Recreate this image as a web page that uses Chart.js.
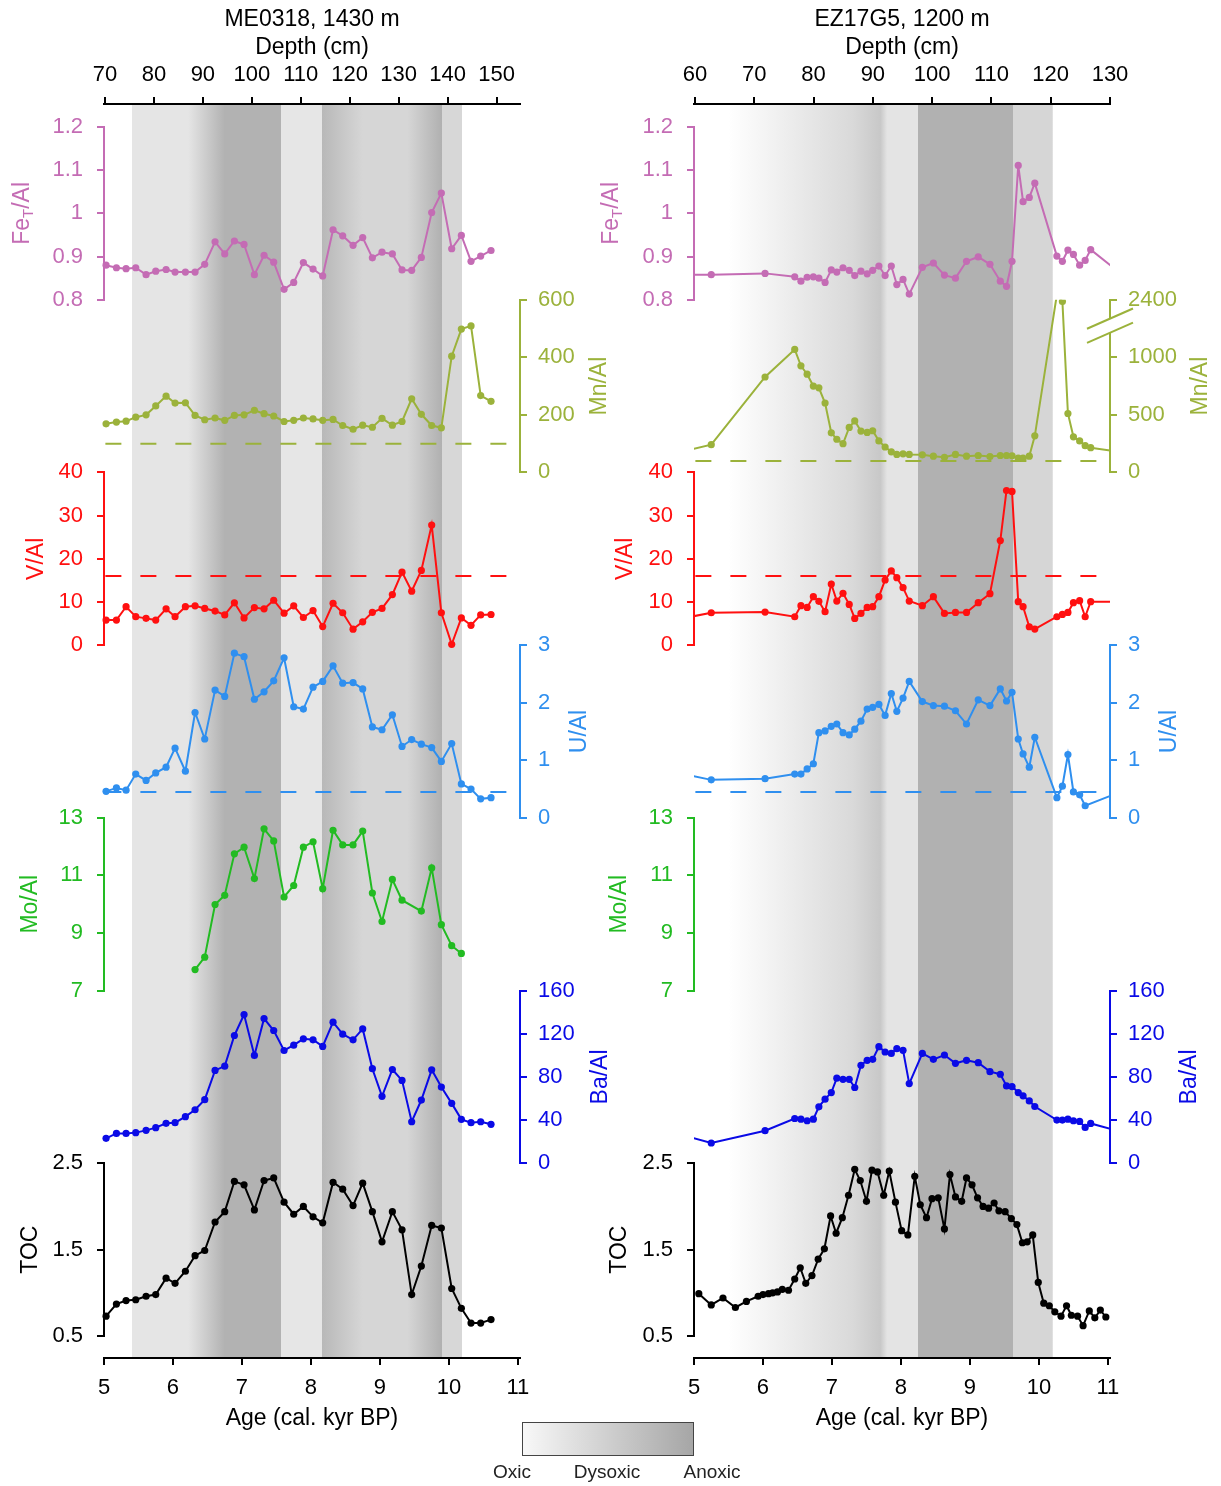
<!DOCTYPE html>
<html lang="en">
<head>
<meta charset="utf-8">
<title>Redox proxies ME0318 / EZ17G5</title>
<script src="https://cdn.jsdelivr.net/npm/chart.js@4.4.1/dist/chart.umd.min.js"></script>
<style>
  html, body { margin: 0; padding: 0; background: #fff; }
  body { position: relative; width: 1221px; height: 1486px; overflow: hidden;
         font-family: "Liberation Sans", Arial, sans-serif; }
  canvas { position: absolute; top: 0; }
  #me-canva { left: 0; }
  #ez-canva { left: 600px; }
  #redox-key { position: absolute; left: 522px; top: 1422px; width: 170px; height: 32px;
               border: 1px solid #444; background: linear-gradient(to right, #f8f8f8, #a6a6a6); }
  .key-label { position: absolute; top: 1461px; font-size: 19px; color: #222;
               transform: translateX(-50%); white-space: nowrap; }
</style>
</head>
<body>
<canvas id="me-canva" width="620" height="1440"></canvas>
<canvas id="ez-canva" width="621" height="1440"></canvas>
<div id="redox-key"></div>
<span class="key-label" style="left:512px">Oxic</span>
<span class="key-label" style="left:607px">Dysoxic</span>
<span class="key-label" style="left:712px">Anoxic</span>
<script>
// ---- ME0318, 1430 m ----
const meAge = [5.03, 5.18, 5.32, 5.46, 5.61, 5.75, 5.90, 6.03, 6.18, 6.32, 6.46, 6.61, 6.75, 6.89, 7.03, 7.18, 7.32, 7.46, 7.61, 7.75,
               7.89, 8.03, 8.17, 8.32, 8.46, 8.61, 8.75, 8.89, 9.03, 9.18, 9.32, 9.46, 9.60, 9.75, 9.89, 10.04, 10.18, 10.32, 10.46, 10.61];
const meFe = [0.880, 0.874, 0.872, 0.874, 0.858, 0.866, 0.870, 0.864, 0.864, 0.864, 0.882, 0.934, 0.906, 0.936, 0.928, 0.858, 0.903, 0.887, 0.824, 0.840,
              0.886, 0.871, 0.855, 0.962, 0.948, 0.926, 0.944, 0.897, 0.910, 0.906, 0.869, 0.868, 0.898, 1.002, 1.047, 0.918, 0.949, 0.889, 0.901, 0.914];
const meMn = [169, 175, 178, 192, 200, 231, 265, 241, 242, 198, 183, 189, 181, 198, 200, 216, 204, 196, 177, 181,
              189, 186, 181, 184, 163, 150, 164, 157, 188, 164, 177, 256, 202, 163, 155, 404, 498, 509, 267, 247];
const meV = [5.8, 5.8, 8.9, 6.6, 6.2, 5.8, 8.4, 6.6, 8.9, 9.1, 8.5, 7.9, 7.0, 9.8, 6.3, 8.7, 8.4, 10.4, 7.4, 9.1,
             6.4, 8.0, 4.3, 9.7, 7.5, 3.7, 5.4, 7.6, 8.5, 11.7, 16.9, 12.5, 17.3, 27.8, 7.5, 0.2, 6.3, 4.6, 7.0, 7.1];
const meU = [0.46, 0.52, 0.48, 0.76, 0.65, 0.78, 0.88, 1.21, 0.81, 1.83, 1.37, 2.22, 2.11, 2.86, 2.80, 2.06, 2.19, 2.38, 2.78, 1.93,
             1.89, 2.27, 2.37, 2.64, 2.34, 2.35, 2.24, 1.58, 1.53, 1.79, 1.24, 1.36, 1.28, 1.22, 0.98, 1.29, 0.59, 0.50, 0.33, 0.35];
const meMo = [null, null, null, null, null, null, null, null, null, 7.73, 8.16, 9.99, 10.31, 11.75, 11.98, 10.89, 12.62, 12.20, 10.25, 10.65,
              11.98, 12.17, 10.54, 12.57, 12.06, 12.06, 12.54, 10.39, 9.40, 10.86, 10.14, null, 9.76, 11.26, 9.29, 8.56, 8.29, null, null, null];
const meBa = [23.1, 27.7, 27.7, 28.4, 30.5, 33.0, 37.0, 37.6, 43.2, 49.6, 58.9, 86.0, 90.0, 118.4, 137.8, 99.9, 134.1, 123.0, 104.5, 109.4,
              115.3, 114.4, 108.3, 130.7, 119.6, 114.4, 124.5, 87.6, 62.0, 86.9, 76.8, 38.5, 58.6, 86.6, 70.6, 55.5, 40.7, 37.6, 38.5, 36.1];
const meToc = [0.73, 0.87, 0.91, 0.92, 0.96, 0.98, 1.17, 1.11, 1.25, 1.43, 1.49, 1.82, 1.94, 2.29, 2.25, 1.96, 2.30, 2.33, 2.05, 1.91,
               2.00, 1.88, 1.81, 2.28, 2.20, 2.01, 2.27, 1.94, 1.59, 1.94, 1.73, 0.98, 1.31, 1.78, 1.75, 1.05, 0.82, 0.65, 0.65, 0.69];

// ---- EZ17G5, 1200 m (first and last samples fall just outside 5-11 kyr) ----
const ezAge = [4.8, 5.25, 6.03, 6.46, 6.55, 6.64, 6.73, 6.81, 6.90, 6.99, 7.07, 7.16, 7.25, 7.33, 7.42, 7.51, 7.59, 7.68, 7.77, 7.86,
               7.94, 8.03, 8.12, 8.31, 8.47, 8.63, 8.79, 8.95, 9.12, 9.29, 9.44, 9.53, 9.61, 9.70, 9.77, 9.86, 9.94, 10.26, 10.34, 10.42,
               10.50, 10.59, 10.67, 10.75, 11.2];
const ezFe = [0.858, 0.858, 0.861, 0.853, 0.843, 0.852, 0.853, 0.850, 0.840, 0.869, 0.864, 0.874, 0.868, 0.856, 0.866, 0.860, 0.868, 0.878, 0.856, 0.878,
              0.835, 0.847, 0.813, 0.875, 0.885, 0.857, 0.850, 0.889, 0.899, 0.882, 0.843, 0.831, 0.889, 1.111, 1.027, 1.037, 1.070, 0.901, 0.889, 0.915,
              0.905, 0.880, 0.891, 0.916, 0.859];
const ezMn = [177, 241, 829, 1068, 926, 853, 750, 735, 603, 344, 288, 250, 391, 447, 359, 347, 362, 274, 221, 179,
              156, 162, 156, 153, 141, 132, 156, 141, 147, 138, 147, 147, 144, 124, 124, 141, 318, 2444, 2385, 512,
              309, 274, 232, 215, 175];
const ezV = [6.1, 7.50, 7.66, 6.58, 9.13, 8.74, 11.22, 10.14, 7.74, 14.16, 10.21, 11.99, 9.44, 6.19, 7.35, 8.74, 8.90, 11.22, 15.09, 17.18,
             15.63, 13.31, 10.21, 9.13, 11.22, 7.35, 7.58, 7.58, 9.83, 11.91, 24.22, 35.82, 35.59, 10.06, 8.90, 4.26, 3.71, 6.58, 7.12, 7.58,
             9.83, 10.29, 6.58, 10.06, 10.06];
const ezU = [0.77, 0.66, 0.68, 0.76, 0.76, 0.85, 0.94, 1.48, 1.51, 1.59, 1.63, 1.48, 1.44, 1.54, 1.68, 1.89, 1.92, 1.97, 1.78, 2.16,
             1.85, 2.08, 2.37, 2.02, 1.95, 1.94, 1.86, 1.63, 2.05, 1.95, 2.24, 2.03, 2.18, 1.37, 1.11, 0.88, 1.40, 0.35, 0.55, 1.10,
             0.45, 0.40, 0.21, null, 0.46];
const ezBa = [26.8, 18.8, 30.2, 41.5, 40.9, 39.4, 40.9, 52.3, 59.4, 65.5, 78.8, 77.8, 77.8, 70.2, 90.8, 95.4, 96.3, 108.0, 103.1, 101.8,
              106.2, 104.6, 73.8, 101.8, 96.3, 100.3, 92.6, 95.4, 93.2, 84.9, 82.5, 71.7, 71.1, 65.5, 62.5, 57.8, 52.6, 40.0, 40.0, 40.9,
              39.4, 38.8, 33.2, 36.9, 28.9];
const ezTocAge = [5.07, 5.25, 5.42, 5.60, 5.76, 5.93, 6.00, 6.08, 6.14, 6.21, 6.28, 6.37, 6.46, 6.54, 6.62, 6.71, 6.80, 6.89, 6.98, 7.06,
                  7.15, 7.24, 7.33, 7.41, 7.50, 7.58, 7.66, 7.75, 7.83, 7.92, 8.01, 8.10, 8.20, 8.28, 8.37, 8.45, 8.54, 8.63, 8.71, 8.79,
                  8.88, 8.95, 9.03, 9.11, 9.19, 9.27, 9.35, 9.42, 9.51, 9.60, 9.68, 9.76, 9.83, 9.91, 9.99, 10.07, 10.15, 10.23, 10.32, 10.40,
                  10.47, 10.56, 10.64, 10.73, 10.81, 10.89, 10.97];
const ezToc = [0.99, 0.86, 0.94, 0.83, 0.90, 0.96, 0.98, 0.99, 1.00, 1.01, 1.04, 1.03, 1.16, 1.29, 1.11, 1.20, 1.39, 1.51, 1.89, 1.69,
               1.87, 2.13, 2.43, 2.30, 2.06, 2.42, 2.40, 2.13, 2.41, 2.05, 1.72, 1.67, 2.35, 2.02, 1.87, 2.09, 2.10, 1.74, 2.37, 2.11,
               2.06, 2.33, 2.25, 2.10, 2.00, 1.98, 2.04, 1.95, 1.94, 1.86, 1.79, 1.58, 1.59, 1.67, 1.12, 0.88, 0.85, 0.78, 0.73, 0.85,
               0.74, 0.73, 0.62, 0.79, 0.71, 0.80, 0.72];

// dashed reference levels
const refMn = 100, refV = 16, refU = 0.45;
const refAge = [5.02, 10.85];

// redox zones: age stops and grey level of the background
const meShadeAge  = [5.40, 5.40, 6.22, 6.75, 7.57, 7.57, 8.16, 8.16, 8.75, 9.40, 9.90, 9.90, 10.19, 10.19];
const meShadeGrey = [255, 229, 229, 178, 178, 230, 230, 184, 214, 214, 176, 215, 215, 255];
const ezShadeAge  = [5.50, 6.50, 7.30, 7.70, 7.80, 8.24, 8.24, 9.62, 9.62, 10.20, 10.20];
const ezShadeGrey = [255, 234, 217, 200, 228, 228, 177, 177, 214, 214, 255];

// tick labels
const ageTicks = [5, 6, 7, 8, 9, 10, 11];
const meDepthTicks = [70, 80, 90, 100, 110, 120, 130, 140, 150];
const ezDepthTicks = [60, 70, 80, 90, 100, 110, 120, 130];
const ezMnTicks = [0, 500, 1000, 2400];

const FONT = '"Liberation Sans", Arial, sans-serif';
const tickFont = {family: FONT, size: 22};
const titleFont = {family: FONT, size: 23};

const cFe = '#c46cb4', cMn = '#9bb23b', cV = '#ff1010', cU = '#2f8fef', cMo = '#22bb22', cBa = '#0a0ae6', cToc = '#000000';

const BAND = 172.7;   // height of one proxy panel

// Mn/Al of EZ17G5 has a broken axis: values above the cut are shifted down
const MN_CUT = 1300, MN_JUMP = 900;
class BrokenScale extends Chart.LinearScale {
  getPixelForValue(value) {
    return super.getPixelForValue(value > MN_CUT ? value - MN_JUMP : value);
  }
}
BrokenScale.id = 'broken';
Chart.register(BrokenScale);

// plain number labels: 1 instead of 1.0, 2400 instead of 2,400
const plainLabel = v => String(parseFloat(Number(v).toFixed(3)));

function series(ages, values, color, yAxisID, clip) {
  return {
    data: ages.map((a, i) => ({x: a, y: values[i]})),
    yAxisID: yAxisID,
    borderColor: color,
    backgroundColor: color,
    pointBackgroundColor: color,
    borderWidth: 2,
    pointRadius: 3.6,
    pointBorderWidth: 0,
    spanGaps: true,
    clip: clip
  };
}

function refLine(level, color, yAxisID) {
  return {
    data: refAge.map(a => ({x: a, y: level})),
    yAxisID: yAxisID,
    borderColor: color,
    borderWidth: 2,
    borderDash: [16, 19],
    pointRadius: 0
  };
}

function shadePlugin(ages, greys) {
  return {
    id: 'redoxShade',
    beforeDraw(chart) {
      const {ctx, chartArea: a} = chart;
      const x = chart.scales.x;
      const x0 = x.getPixelForValue(ages[0]);
      const x1 = x.getPixelForValue(ages[ages.length - 1]);
      const g = ctx.createLinearGradient(x0, 0, x1, 0);
      ages.forEach((age, i) => {
        const v = greys[i];
        g.addColorStop((x.getPixelForValue(age) - x0) / (x1 - x0), 'rgb(' + v + ',' + v + ',' + v + ')');
      });
      ctx.save();
      ctx.fillStyle = g;
      ctx.fillRect(x0, a.top, x1 - x0, a.bottom - a.top);
      ctx.restore();
    }
  };
}

// rotated axis titles, "_" marks a one-letter subscript
function titlePlugin(items) {
  return {
    id: 'axisTitles',
    afterDraw(chart) {
      const ctx = chart.ctx;
      items.forEach(([id, text, off]) => {
        const s = chart.scales[id];
        const cx = s.position === 'left' ? s.right - off : s.left + off;
        const cy = (s.top + s.bottom) / 2;
        const [main, rest] = text.split('_');
        const pieces = rest === undefined ? [[main, 0]] : [[main, 0], [rest[0], 1], [rest.slice(1), 0]];
        const fontOf = sub => (sub ? 15 : 23) + 'px ' + FONT;
        ctx.save();
        ctx.translate(cx, cy);
        ctx.rotate(-Math.PI / 2);
        ctx.fillStyle = s.options.border.color;
        ctx.textBaseline = 'middle';
        let w = 0;
        pieces.forEach(([t, sub]) => { ctx.font = fontOf(sub); w += ctx.measureText(t).width; });
        let px = -w / 2;
        pieces.forEach(([t, sub]) => {
          ctx.font = fontOf(sub);
          ctx.fillText(t, px, sub ? 6 : 0);
          px += ctx.measureText(t).width;
        });
        ctx.restore();
      });
    }
  };
}

// the "//" marks on the broken Mn/Al axis
const mnBreakMarks = {
  id: 'mnBreakMarks',
  afterDraw(chart) {
    const s = chart.scales.yMn, ctx = chart.ctx;
    const x0 = s.left, dx = 23, k = 0.44;
    const yHi = s.getPixelForDecimal(1336 / 1500), yLo = s.getPixelForDecimal(1213 / 1500);
    ctx.save();
    ctx.fillStyle = '#fff';
    ctx.beginPath();
    ctx.moveTo(x0 - dx, yHi + dx * k);
    ctx.lineTo(x0 + dx, yHi - dx * k);
    ctx.lineTo(x0 + dx, yLo - dx * k);
    ctx.lineTo(x0 - dx, yLo + dx * k);
    ctx.closePath();
    ctx.fill();
    ctx.strokeStyle = cMn;
    ctx.lineWidth = 2;
    [yHi, yLo].forEach(y => {
      ctx.beginPath();
      ctx.moveTo(x0 - dx, y + dx * k);
      ctx.lineTo(x0 + dx, y - dx * k);
      ctx.stroke();
    });
    ctx.restore();
  }
};

function makeColumn(canvasId, o) {
  const axisY = (side, order, min, max, step, color) => ({
    type: 'linear', position: side, stack: side, stackWeight: BAND, weight: order,
    min: min, max: max,
    ticks: {stepSize: step, color: color, font: tickFont, padding: side === 'left' ? 14 : 11,
            autoSkip: false, callback: plainLabel},
    grid: {drawOnChartArea: false, color: color, lineWidth: 2, tickLength: 7},
    border: {color: color, width: 2},
    afterFit: s => { s.width = side === 'left' ? o.leftW : o.rightW; }
  });
  const gap = (side, order, share) => ({
    type: 'linear', display: false, position: side, stack: side, stackWeight: share, weight: order
  });

  const mnAxis = axisY('right', 2, 0, 600, 200, cMn);
  if (o.brokenMn) {
    mnAxis.type = 'broken';
    mnAxis.max = 1500;
    mnAxis.afterBuildTicks = s => { s.ticks = ezMnTicks.map(v => ({value: v})); };
  }

  const scales = {
    x: {
      type: 'linear', position: 'bottom', min: 5, max: o.ageMax,
      afterBuildTicks: s => { s.ticks = ageTicks.map(v => ({value: v})); },
      ticks: {color: '#000', font: tickFont, padding: 10, autoSkip: false, maxRotation: 0},
      grid: {drawOnChartArea: false, color: '#000', lineWidth: 2, tickLength: 7},
      border: {color: '#000', width: 2},
      title: {display: true, text: 'Age (cal. kyr BP)', color: '#000', font: titleFont, padding: {top: 0, bottom: 8}},
      afterFit: s => { s.height = 82; }
    },
    depth: {
      type: 'linear', position: 'top', min: o.depthMin, max: o.depthMax,
      afterBuildTicks: s => { s.ticks = o.depthTicks.map(v => ({value: v})); },
      ticks: {color: '#000', font: tickFont, padding: 9, autoSkip: false, maxRotation: 0},
      grid: {drawOnChartArea: false, color: '#000', lineWidth: 2, tickLength: 7},
      border: {color: '#000', width: 2},
      title: {display: true, text: [o.title, 'Depth (cm)'], color: '#000', font: titleFont, padding: {top: 6, bottom: 0}},
      afterFit: s => { s.height = 104; }
    },
    gapL0: gap('left', 9, 23),
    yFe: axisY('left', 8, 0.8, 1.2, 0.1, cFe),
    gapL1: gap('left', 7, BAND),
    yV: axisY('left', 6, 0, 40, 10, cV),
    gapL2: gap('left', 5, BAND),
    yMo: axisY('left', 4, 7, 13, 2, cMo),
    gapL3: gap('left', 3, BAND),
    yToc: axisY('left', 2, 0.5, 2.5, 1, cToc),
    gapL4: gap('left', 1, 22),
    gapR0: gap('right', 1, 23 + BAND),
    yMn: mnAxis,
    gapR1: gap('right', 3, BAND),
    yU: axisY('right', 4, 0, 3, 1, cU),
    gapR2: gap('right', 5, BAND),
    yBa: axisY('right', 6, 0, 160, 40, cBa),
    gapR3: gap('right', 7, BAND + 22)
  };

  const plugins = [shadePlugin(o.shadeAge, o.shadeGrey), titlePlugin(o.titles)];
  if (o.brokenMn) plugins.push(mnBreakMarks);

  return new Chart(document.getElementById(canvasId), {
    type: 'line',
    data: {datasets: o.datasets},
    options: {
      responsive: false,
      animation: false,
      events: [],
      layout: {padding: 0},
      plugins: {legend: {display: false}, tooltip: {enabled: false}},
      elements: {line: {tension: 0}},
      scales: scales
    },
    plugins: plugins
  });
}

makeColumn('me-canva', {
  title: 'ME0318, 1430 m',
  leftW: 104, rightW: 100,
  ageMax: 11.03, depthMin: 69.8, depthMax: 154.8, depthTicks: meDepthTicks,
  shadeAge: meShadeAge, shadeGrey: meShadeGrey,
  titles: [['yFe', 'Fe_T/Al', 81], ['yMn', 'Mn/Al', 80], ['yV', 'V/Al', 67], ['yU', 'U/Al', 60],
           ['yMo', 'Mo/Al', 73], ['yBa', 'Ba/Al', 81], ['yToc', 'TOC', 73]],
  datasets: [
    series(meAge, meFe, cFe, 'yFe', 6),
    series(meAge, meMn, cMn, 'yMn', 6),
    refLine(refMn, cMn, 'yMn'),
    series(meAge, meV, cV, 'yV', 6),
    refLine(refV, cV, 'yV'),
    series(meAge, meU, cU, 'yU', 6),
    refLine(refU, cU, 'yU'),
    series(meAge, meMo, cMo, 'yMo', 6),
    series(meAge, meBa, cBa, 'yBa', 6),
    series(meAge, meToc, cToc, 'yToc', 6)
  ]
});

makeColumn('ez-canva', {
  title: 'EZ17G5, 1200 m',
  leftW: 94, rightW: 111,
  ageMax: 11.03, depthMin: 59.83, depthMax: 130, depthTicks: ezDepthTicks,
  shadeAge: ezShadeAge, shadeGrey: ezShadeGrey,
  brokenMn: true,
  titles: [['yFe', 'Fe_T/Al', 82], ['yMn', 'Mn/Al', 91], ['yV', 'V/Al', 68], ['yU', 'U/Al', 60],
           ['yMo', 'Mo/Al', 74], ['yBa', 'Ba/Al', 80], ['yToc', 'TOC', 74]],
  datasets: [
    series(ezAge, ezFe, cFe, 'yFe', 0),
    series(ezAge, ezMn, cMn, 'yMn', 0),
    refLine(refMn, cMn, 'yMn'),
    series(ezAge, ezV, cV, 'yV', 0),
    refLine(refV, cV, 'yV'),
    series(ezAge, ezU, cU, 'yU', 0),
    refLine(refU, cU, 'yU'),
    series(ezAge, ezBa, cBa, 'yBa', 0),
    series(ezTocAge, ezToc, cToc, 'yToc', 0)
  ]
});
</script>
</body>
</html>
